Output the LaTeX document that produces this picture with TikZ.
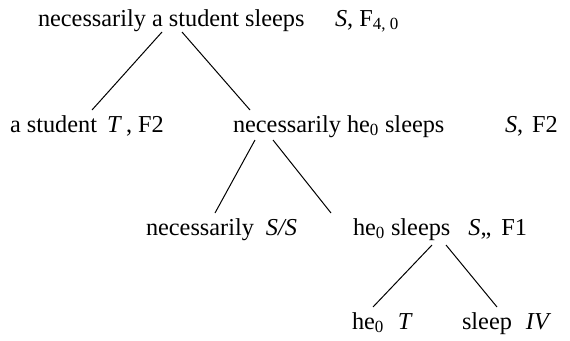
\documentclass[tikz,border=0pt]{standalone}
\usepackage{fontspec}
\setmainfont{Liberation Serif}
\begin{document}
\begin{tikzpicture}[x=1pt,y=-1pt,
  lbl/.style={anchor=base west,inner sep=0pt,outer sep=0pt,font=\fontsize{24.3}{28}\selectfont},
  edge/.style={line width=1pt,black}]
\useasboundingbox (0,0) rectangle (570,340);
% row 1
\node[lbl] (n1) at (38,26) {necessarily a student sleeps};
\node[lbl] (n1c) at (335,26) {\textit{S}, F\textsubscript{4, 0}};
% row 2
\node[lbl] (n2) at (10,132) {a student\hspace{10pt}\textit{T}\,, F2};
\node[lbl] (n3) at (233,132) {necessarily he\textsubscript{0} sleeps};
\node[lbl] (n3c) at (505,132) {\textit{S},\hspace{9pt}F2};
% row 3
\node[lbl] (n4) at (146,235) {necessarily\hspace{12pt}\textit{S/S}};
\node[lbl] (n5) at (353,235) {he\textsubscript{0} sleeps\hspace{18pt}\textit{S},,\hspace{10pt}F1};
% row 4
\node[lbl] (n6) at (352,329) {he\textsubscript{0}\hspace{14pt}\textit{T}};
\node[lbl] (n7) at (462,329) {sleep\hspace{14pt}\textit{IV}};
% connector end points
\coordinate (a1) at (162,32);
\coordinate (a2) at (182,32);
\coordinate (b1) at (92,110);
\coordinate (b2) at (250,110);
\coordinate (c1) at (255,140);
\coordinate (c2) at (273,140);
\coordinate (d1) at (215,213);
\coordinate (d2) at (331,213);
\coordinate (e1) at (432,245);
\coordinate (e2) at (446,245);
\coordinate (f1) at (373,307);
\coordinate (f2) at (497,307);
\draw[edge] (a1) -- (b1);
\draw[edge] (a2) -- (b2);
\draw[edge] (c1) -- (d1);
\draw[edge] (c2) -- (d2);
\draw[edge] (e1) -- (f1);
\draw[edge] (e2) -- (f2);
\end{tikzpicture}
\end{document}
